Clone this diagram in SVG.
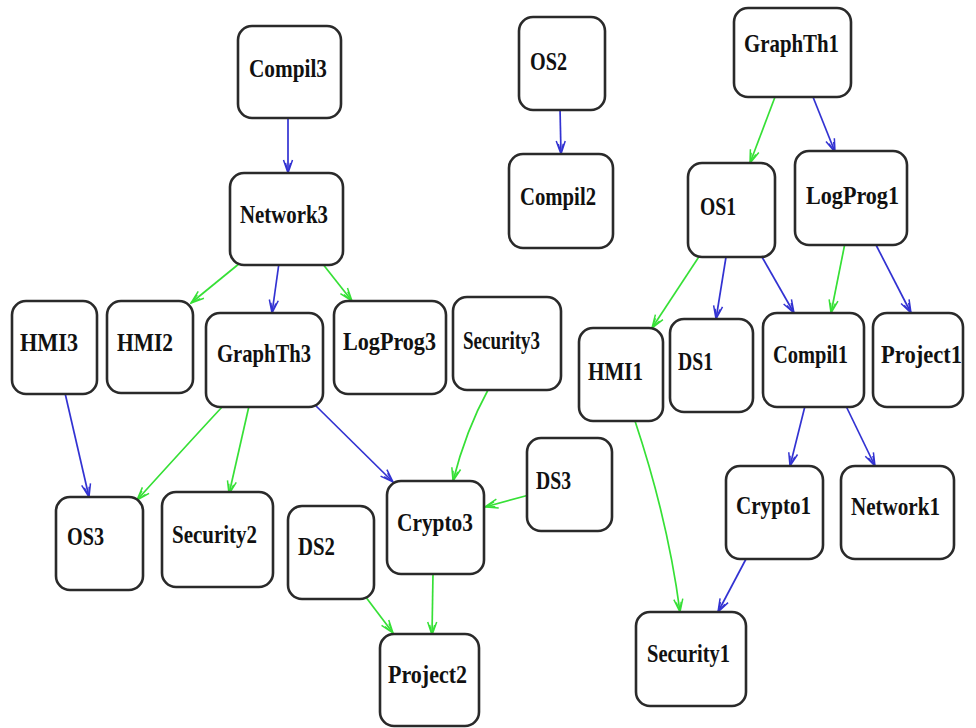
<svg xmlns="http://www.w3.org/2000/svg" width="976" height="728" viewBox="0 0 976 728">
  <style>
    .box { fill: #ffffff; stroke: #2a2a2a; stroke-width: 2.6; }
    .lbl { font-family: "Liberation Serif", "Times New Roman", serif; font-weight: bold; font-size: 26px; fill: #111111; }
    .blue { fill: none; stroke: #3232d2; stroke-width: 1.7; marker-end: url(#arrowBlue); }
    .green { fill: none; stroke: #36e036; stroke-width: 1.7; marker-end: url(#arrowGreen); }
  </style>
  <defs>
    <marker id="arrowBlue" viewBox="0 0 15 12" refX="14" refY="6" markerWidth="15" markerHeight="12" markerUnits="userSpaceOnUse" orient="auto">
      <path d="M1,1.5 L14,6 L1,10.5 M4,3.5 L14,6 L4,8.5" fill="none" stroke="#3232d2" stroke-width="1.5"/>
    </marker>
    <marker id="arrowGreen" viewBox="0 0 15 12" refX="14" refY="6" markerWidth="15" markerHeight="12" markerUnits="userSpaceOnUse" orient="auto">
      <path d="M1,1.5 L14,6 L1,10.5 M4,3.5 L14,6 L4,8.5" fill="none" stroke="#36e036" stroke-width="1.5"/>
    </marker>
  </defs>
  <rect width="976" height="728" fill="#ffffff"/>

  <!-- connectors -->
  <g id="connectors">
    <path class="blue" d="M288,118 L288,173"/>
    <path class="green" d="M240,263 L191,303"/>
    <path class="blue" d="M279,263 L272,313"/>
    <path class="green" d="M322,263 L352,301"/>
    <path class="blue" d="M560,108 L561,154"/>
    <path class="green" d="M775,97 L750,163"/>
    <path class="blue" d="M813,97 L835,152"/>
    <path class="green" d="M706,246 L652,328"/>
    <path class="blue" d="M726,257 L716,319"/>
    <path class="blue" d="M762,257 L794,313"/>
    <path class="green" d="M845,243 L831,313"/>
    <path class="blue" d="M875,243 L911,313"/>
    <path class="blue" d="M65,393 L89,497"/>
    <path class="green" d="M223,406 Q195,436 137,500"/>
    <path class="green" d="M249,406 L229,494"/>
    <path class="blue" d="M313,403 L393,482"/>
    <path class="green" d="M488,390 Q466,430 453,481"/>
    <path class="green" d="M529,495 L485,507"/>
    <path class="green" d="M365,596 L393,633"/>
    <path class="green" d="M433,573 L432,635"/>
    <path class="green" d="M635,421 Q668,520 680,612"/>
    <path class="blue" d="M805,406 L790,466"/>
    <path class="blue" d="M846,406 L875,466"/>
    <path class="blue" d="M746,559 L718,612"/>
  </g>

  <!-- nodes -->
  <g id="Compil3"><rect class="box" x="238" y="26" width="103" height="92" rx="14"/><text class="lbl" x="249" y="77" textLength="78" lengthAdjust="spacingAndGlyphs">Compil3</text></g>
  <g id="Network3"><rect class="box" x="230" y="173" width="113" height="92" rx="14"/><text class="lbl" x="240" y="223" textLength="88" lengthAdjust="spacingAndGlyphs">Network3</text></g>
  <g id="HMI3"><rect class="box" x="12" y="301" width="85" height="93" rx="14"/><text class="lbl" x="20" y="351" textLength="58" lengthAdjust="spacingAndGlyphs">HMI3</text></g>
  <g id="HMI2"><rect class="box" x="107" y="301" width="86" height="92" rx="14"/><text class="lbl" x="117" y="351" textLength="56" lengthAdjust="spacingAndGlyphs">HMI2</text></g>
  <g id="GraphTh3"><rect class="box" x="206" y="313" width="117" height="94" rx="14"/><text class="lbl" x="217" y="362" textLength="94" lengthAdjust="spacingAndGlyphs">GraphTh3</text></g>
  <g id="LogProg3"><rect class="box" x="334" y="301" width="112" height="93" rx="14"/><text class="lbl" x="343" y="350" textLength="93" lengthAdjust="spacingAndGlyphs">LogProg3</text></g>
  <g id="Security3"><rect class="box" x="453" y="297" width="108" height="93" rx="14"/><text class="lbl" x="463" y="349" textLength="77" lengthAdjust="spacingAndGlyphs">Security3</text></g>
  <g id="HMI1"><rect class="box" x="579" y="328" width="84" height="93" rx="14"/><text class="lbl" x="588" y="380" textLength="55" lengthAdjust="spacingAndGlyphs">HMI1</text></g>
  <g id="DS1"><rect class="box" x="670" y="319" width="83" height="93" rx="14"/><text class="lbl" x="678" y="370" textLength="35" lengthAdjust="spacingAndGlyphs">DS1</text></g>
  <g id="Compil1"><rect class="box" x="763" y="313" width="101" height="94" rx="14"/><text class="lbl" x="773" y="363" textLength="75" lengthAdjust="spacingAndGlyphs">Compil1</text></g>
  <g id="Project1"><rect class="box" x="873" y="313" width="90" height="94" rx="14"/><text class="lbl" x="881" y="363" textLength="81" lengthAdjust="spacingAndGlyphs">Project1</text></g>
  <g id="OS2"><rect class="box" x="519" y="17" width="86" height="93" rx="14"/><text class="lbl" x="530" y="70" textLength="37" lengthAdjust="spacingAndGlyphs">OS2</text></g>
  <g id="Compil2"><rect class="box" x="509" y="154" width="104" height="94" rx="14"/><text class="lbl" x="520" y="205" textLength="76" lengthAdjust="spacingAndGlyphs">Compil2</text></g>
  <g id="GraphTh1"><rect class="box" x="734" y="8" width="117" height="89" rx="14"/><text class="lbl" x="744" y="52" textLength="95" lengthAdjust="spacingAndGlyphs">GraphTh1</text></g>
  <g id="OS1"><rect class="box" x="688" y="163" width="87" height="94" rx="14"/><text class="lbl" x="700" y="215" textLength="36" lengthAdjust="spacingAndGlyphs">OS1</text></g>
  <g id="LogProg1"><rect class="box" x="795" y="151" width="112" height="94" rx="14"/><text class="lbl" x="806" y="204" textLength="93" lengthAdjust="spacingAndGlyphs">LogProg1</text></g>
  <g id="OS3"><rect class="box" x="56" y="497" width="87" height="93" rx="14"/><text class="lbl" x="67" y="545" textLength="37" lengthAdjust="spacingAndGlyphs">OS3</text></g>
  <g id="Security2"><rect class="box" x="162" y="492" width="111" height="95" rx="14"/><text class="lbl" x="172" y="543" textLength="85" lengthAdjust="spacingAndGlyphs">Security2</text></g>
  <g id="DS2"><rect class="box" x="288" y="506" width="86" height="93" rx="14"/><text class="lbl" x="298" y="555" textLength="37" lengthAdjust="spacingAndGlyphs">DS2</text></g>
  <g id="Crypto3"><rect class="box" x="387" y="481" width="97" height="93" rx="14"/><text class="lbl" x="397" y="531" textLength="76" lengthAdjust="spacingAndGlyphs">Crypto3</text></g>
  <g id="Project2"><rect class="box" x="380" y="634" width="99" height="92" rx="14"/><text class="lbl" x="388" y="683" textLength="79" lengthAdjust="spacingAndGlyphs">Project2</text></g>
  <g id="DS3"><rect class="box" x="527" y="438" width="85" height="93" rx="14"/><text class="lbl" x="536" y="489" textLength="35" lengthAdjust="spacingAndGlyphs">DS3</text></g>
  <g id="Crypto1"><rect class="box" x="726" y="466" width="97" height="93" rx="14"/><text class="lbl" x="736" y="514" textLength="75" lengthAdjust="spacingAndGlyphs">Crypto1</text></g>
  <g id="Network1"><rect class="box" x="841" y="466" width="113" height="93" rx="14"/><text class="lbl" x="851" y="515" textLength="89" lengthAdjust="spacingAndGlyphs">Network1</text></g>
  <g id="Security1"><rect class="box" x="636" y="612" width="110" height="94" rx="14"/><text class="lbl" x="647" y="662" textLength="83" lengthAdjust="spacingAndGlyphs">Security1</text></g>
</svg>
